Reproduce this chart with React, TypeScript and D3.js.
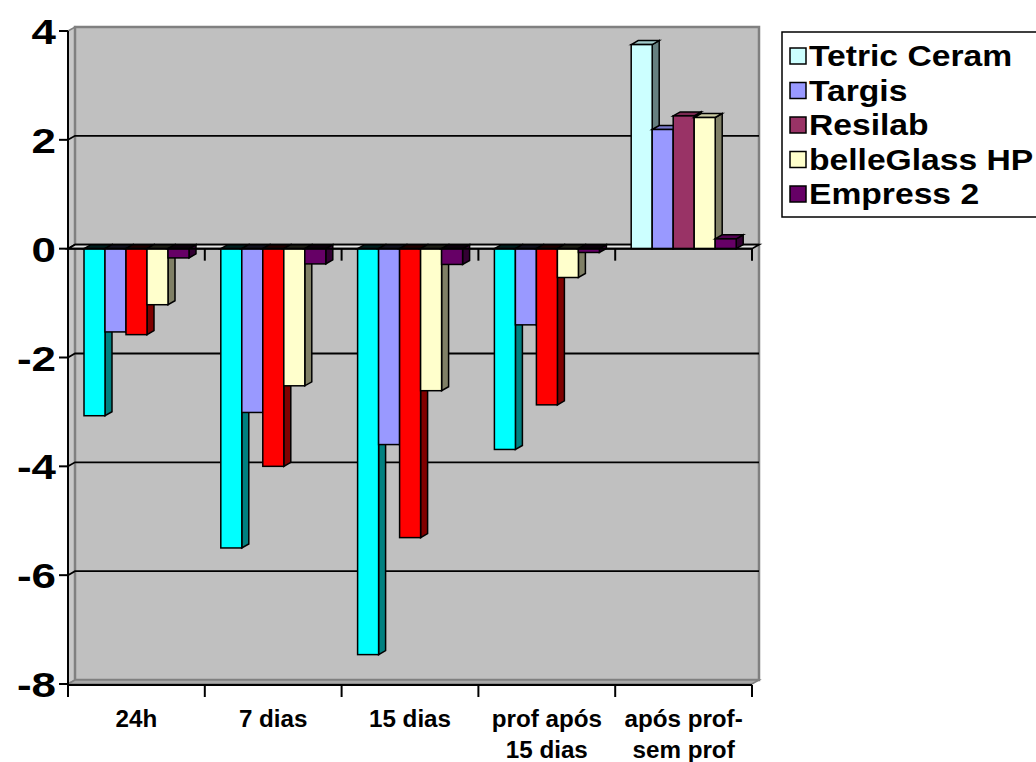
import React from "react";
import * as d3 from "d3";

const categories: string[][] = [
  ["24h"],
  ["7 dias"],
  ["15 dias"],
  ["prof após", "15 dias"],
  ["após prof-", "sem prof"],
];
const seriesNames = ["Tetric Ceram", "Targis", "Resilab", "belleGlass HP", "Empress 2"];
const tetricCeram = [-3.07, -5.5, -7.46, -3.69, 3.75];
const targis = [-1.53, -3.01, -3.6, -1.4, 2.19];
const resilab = [-1.58, -4.0, -5.31, -2.87, 2.44];
const belleGlass = [-1.03, -2.52, -2.61, -0.53, 2.41];
const empress2 = [-0.17, -0.28, -0.29, -0.07, 0.18];
const seriesValues = [tetricCeram, targis, resilab, belleGlass, empress2];
const yTicks = [4, 2, 0, -2, -4, -6, -8];

// legend swatches and the fills used for the last group
const legendColors = ["#CCFFFF", "#9999FF", "#993366", "#FFFFCC", "#660066"];
// fills used for the first four groups
const groupColors = ["#00FFFF", "#9999FF", "#FF0000", "#FFFFCC", "#660066"];

const W = 1036;
const H = 762;
const DX = 7;
const DY = 4;

function shade(c: string, k: number) {
  const col = d3.rgb(c);
  return d3.rgb(col.r * k, col.g * k, col.b * k).formatHex();
}

export default function App() {
  const y = d3.scaleLinear().domain([-8, 4]).range([684, 31]);
  const x0 = d3
    .scaleBand<number>()
    .domain(d3.range(categories.length))
    .range([68, 752])
    .padding(0);
  const x1 = d3
    .scaleBand<number>()
    .domain(d3.range(seriesNames.length))
    .range([16, 16 + 5 * 21])
    .padding(0);

  const left = 68;
  const right = 752;
  const top = y(4);
  const bottom = y(-8);
  const zero = y(0);

  const poly = (pts: [number, number][]) => pts.map((p) => p.join(",")).join(" ");

  const bars: React.ReactNode[] = [];
  categories.forEach((_, ci) => {
    seriesValues.forEach((vals, si) => {
      const v = vals[ci];
      const fill = ci === 4 ? legendColors[si] : groupColors[si];
      const xl = (x0(ci) as number) + (x1(si) as number);
      const w = x1.bandwidth();
      const yv = y(v);
      const yTop = Math.min(yv, zero);
      const yBot = Math.max(yv, zero);
      // negative columns show their cap at the zero plane in near-black
      const capFill = v < 0 ? shade(fill, 0.12) : shade(fill, 0.8);
      bars.push(
        <g key={`${ci}-${si}`} stroke="#000" strokeWidth={1.5} strokeLinejoin="miter">
          <polygon
            points={poly([
              [xl + w, yTop],
              [xl + w + DX, yTop - DY],
              [xl + w + DX, yBot - DY],
              [xl + w, yBot],
            ])}
            fill={shade(fill, 0.5)}
          />
          <polygon
            points={poly([
              [xl, yTop],
              [xl + DX, yTop - DY],
              [xl + w + DX, yTop - DY],
              [xl + w, yTop],
            ])}
            fill={capFill}
          />
          <rect x={xl} y={yTop} width={w} height={yBot - yTop} fill={fill} />
        </g>
      );
    });
  });

  const font = "Arial, 'Liberation Sans', sans-serif";

  return (
    <svg width={W} height={H} style={{ position: "absolute", left: 0, top: 0 }}>
      <rect width={W} height={H} fill="#fff" />
      {/* side wall */}
      <polygon
        points={poly([
          [left, top],
          [left + DX, top - DY],
          [left + DX, bottom - DY],
          [left, bottom],
        ])}
        fill="#C8C8C8"
        stroke="#808080"
        strokeWidth={1.5}
      />
      {/* back wall */}
      <rect
        x={left + DX}
        y={top - DY}
        width={right - left}
        height={bottom - top}
        fill="#C0C0C0"
        stroke="#808080"
        strokeWidth={2.5}
      />
      {/* floor */}
      <polygon
        points={poly([
          [left, bottom],
          [left + DX, bottom - DY],
          [right + DX, bottom - DY],
          [right, bottom],
        ])}
        fill="#A8A8A8"
        stroke="#808080"
        strokeWidth={1.5}
      />
      {/* gridlines */}
      {yTicks
        .filter((t) => t !== 4 && t !== -8)
        .map((t) => (
          <g key={t} stroke="#000" strokeWidth={1.8} fill="none">
            <polyline
              points={poly([
                [left, y(t)],
                [left + DX, y(t) - DY],
                [right + DX, y(t) - DY],
              ])}
            />
          </g>
        ))}
      {/* zero plane */}
      <polygon
        points={poly([
          [left, zero],
          [left + DX, zero - DY],
          [right + DX, zero - DY],
          [right, zero],
        ])}
        fill="#E4E4E4"
        stroke="#000"
        strokeWidth={1.8}
      />
      {bars}
      {/* category axis at zero */}
      <g stroke="#000" strokeWidth={2}>
        <line x1={left} x2={right} y1={zero} y2={zero} />
        {d3.range(categories.length + 1).map((i) => {
          const xx = left + i * x0.bandwidth();
          return <line key={i} x1={xx} x2={xx} y1={zero} y2={zero + 12} />;
        })}
      </g>
      {/* value axis */}
      <g stroke="#000" strokeWidth={2}>
        <line x1={left} x2={left} y1={top} y2={bottom + 12} />
        {yTicks.map((t) => (
          <line key={t} x1={left - 9} x2={left} y1={y(t)} y2={y(t)} />
        ))}
      </g>
      {yTicks.map((t) => (
        <text
          key={t}
          transform={`translate(56,${y(t) + 13}) scale(1.22,1)`}
          textAnchor="end"
          fontFamily={font}
          fontWeight="bold"
          fontSize={36}
          fill="#000"
        >
          {t}
        </text>
      ))}
      {/* category axis at the bottom */}
      <g stroke="#000" strokeWidth={2}>
        <line x1={left} x2={right} y1={bottom + 1} y2={bottom + 1} />
        {d3.range(categories.length + 1).map((i) => {
          const xx = left + i * x0.bandwidth();
          return <line key={i} x1={xx} x2={xx} y1={bottom + 1} y2={bottom + 13} />;
        })}
      </g>
      {categories.map((lines, ci) => (
        <text
          key={ci}
          transform={`translate(${(x0(ci) as number) + x0.bandwidth() / 2},727) scale(1.03,1)`}
          textAnchor="middle"
          fontFamily={font}
          fontWeight="bold"
          fontSize={23.5}
          fill="#000"
        >
          {lines.map((l, li) => (
            <tspan key={li} x={0} dy={li === 0 ? 0 : 31}>
              {l}
            </tspan>
          ))}
        </text>
      ))}
      {/* legend */}
      <rect x={782} y={32} width={300} height={185} fill="#fff" stroke="#000" strokeWidth={1.5} />
      {seriesNames.map((name, i) => {
        const cy = 56 + i * 34.5;
        return (
          <g key={name}>
            <rect x={790} y={cy - 8} width={16} height={16} fill={legendColors[i]} stroke="#000" strokeWidth={1.5} />
            <text
              transform={`translate(809,${cy + 10}) scale(1.16,1)`}
              fontFamily={font}
              fontWeight="bold"
              fontSize={29}
              fill="#000"
            >
              {name}
            </text>
          </g>
        );
      })}
    </svg>
  );
}
